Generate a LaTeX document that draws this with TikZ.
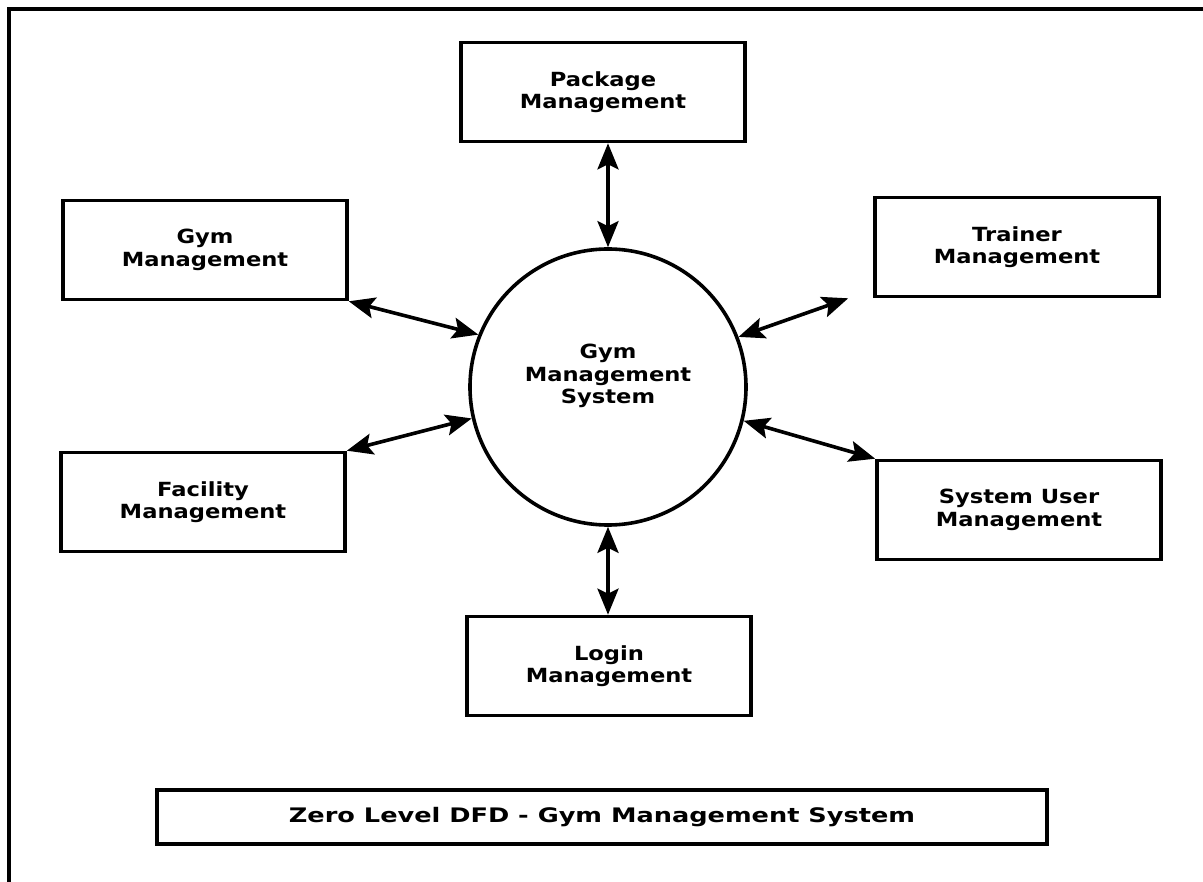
\documentclass[tikz,border=0pt]{standalone}
\usepackage{fontspec}
\usetikzlibrary{arrows.meta}
\newfontfamily\boxfont[FakeStretch=1.16]{DejaVu Sans Bold}
\newfontfamily\titlefont[FakeStretch=1.28]{DejaVu Sans Bold}
\def\lw{3.6pt}

\begin{document}
\begin{tikzpicture}[x=1pt, y=-1pt,
    proc/.style={draw, line width=\lw, minimum width=284pt, minimum height=99pt,
      align=center, font=\boxfont\fontsize{19.5}{22.5}\selectfont, inner sep=0pt},
    flow/.style={line width=\lw, {Stealth[length=26pt,width=21pt,inset=5pt]}-{Stealth[length=26pt,width=21pt,inset=5pt]}}]
      \useasboundingbox (0,0) rectangle (1203,882);
      \draw[line width=4pt] (9,882) -- (9,9) -- (1203,9);
      \node[circle, draw, line width=\lw, minimum size=276pt] (gms) at (608,387) {};
      \node[align=center, font=\boxfont\fontsize{19.5}{22.5}\selectfont] (gmstxt) at ([yshift=11pt]gms.center) {Gym\\Management\\System};
      \node[proc] (pkg) at (603,92) {Package\\Management};
      \node[proc] (gym) at (205,250) {Gym\\Management};
      \node[proc] (trn) at (1017,247) {Trainer\\Management};
      \node[proc] (fac) at (203,502) {Facility\\Management};
      \node[proc] (usr) at (1019,510) {System User\\Management};
      \node[proc] (lgn) at (609,666) {Login\\Management};
      \draw[flow] (pkg.south -| gms.north) -- (gms.north);
      \draw[flow] (gym.south east) -- (gms.158);
      \draw[flow] ([xshift=-25pt]trn.south west) -- (gms.21);
      \draw[flow] (fac.north east) -- (gms.193);
      \draw[flow] (usr.north west) -- (gms.-14);
      \draw[flow] (gms.south) -- (lgn.north -| gms.south);
      \node[draw, line width=\lw, minimum width=890pt, minimum height=54pt,
        font=\titlefont\fontsize{20}{22}\selectfont] (ttl) at (602,817) {Zero Level DFD - Gym Management System};
    \end{tikzpicture}
\end{document}
